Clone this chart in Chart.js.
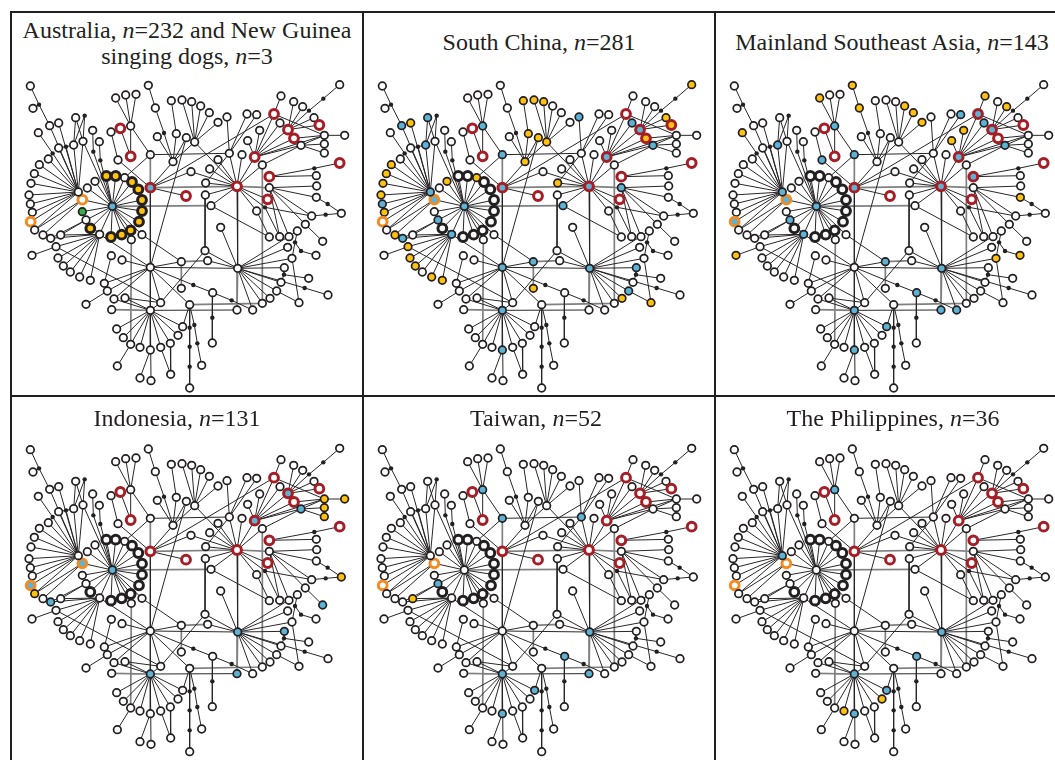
<!DOCTYPE html>
<html>
<head>
<meta charset="utf-8">
<script src="https://cdn.jsdelivr.net/npm/chart.js@4"></script>
<style>
  html, body { margin: 0; padding: 0; background: #fff; }
  body { position: relative; width: 1055px; height: 760px; overflow: hidden; }
  canvas { position: absolute; }
  .title { position: absolute; font-family: "Liberation Serif", serif; font-size: 24px; line-height: 26px;
           color: #231f20; text-align: center; white-space: nowrap; transform: translateX(-50%); }
  .rule { position: absolute; background: #231f20; }
</style>
</head>
<body>
<script>
// node positions, shared by all six panels (units: 1/3 px inside a panel)
const nodes = [
  ["l1",61,48],["l2",69,115],["l3",119,167],["l4",146,159],["l5",85,188],["l6",197,143],["l7",248,181],["l8",219,214],
  ["l9",191,225],["l10",146,234],["l11",115,267],["l12",88,284],["l13",73,311],["l14",63,340],["l15",57,375],["l16",61,402],
  ["l17",67,427],["l18",62,455],["l19",74,480],["l20",99,495],["l21",122,505],["l22",152,495],["l23",268,215],
  ["l24",232,354],["l25",255,334],["l26",217,389],["l27",217,425],["l28",228,450],
  ["A",205,366],["B",307,409],["I",269,493],["C",421,353],["H",421,254],["F",554,216],["G",489,275],["P",658,250],
  ["E",734,261],["D",681,349],["N",778,353],["Q",834,179],["J",421,592],["K",683,595],["L",421,721],["M",539,704],["O",452,698],
  ["r0",344,323],["r1",289,318],["r2",317,318],["r3",366,336],["r4",385,358],["r5",396,390],["r6",396,423],["r7",387,455],
  ["r8",362,481],["r9",335,494],["r10",303,501],["r11",241,475],
  ["u1",303,186],["u2",331,175],["u3",362,168],["u4",317,84],["u5",347,75],["u6",378,73],["u7",415,46],["u8",436,114],
  ["u9",362,259],["u10",324,270],["u11",528,378],["u12",442,200],["u13",499,191],["u14",529,203],
  ["f1",484,92],["f2",516,90],["f3",545,95],["f4",572,108],["f5",598,128],["f6",624,157],
  ["u15",651,141],["u16",711,132],["u17",740,134],["v1",696,254],["v2",713,212],["v3",749,181],["v4",792,132],["v5",810,159],["v6",813,78],
  ["w1",851,95],["w2",878,110],["w3",912,143],["w4",928,165],["w5",852,205],["w6",873,226],["w7",943,196],["w8",1004,196],
  ["w9",943,222],["w10",943,249],["w11",989,44],
  ["m1",543,305],["m2",599,297],["m3",624,269],["m4",587,339],["m5",586,375],["m6",603,407],["m7",757,285],["m8",778,320],["m9",773,388],["m10",740,423],
  ["x1",919,317],["x2",920,348],["x3",919,382],["x4",989,279],["x5",994,430],["x6",905,438],["x7",886,463],["x8",938,514],
  ["x9",778,501],["x10",809,500],["x11",837,500],["x12",862,483],
  ["y1",396,494],["y2",364,509],["y3",304,557],["y4",336,570],["y5",514,575],["y6",593,572],["y7",585,542],["y8",632,472],["y9",514,655],["y10",608,668],["y11",607,819],
  ["k1",833,532],["k2",846,565],["k3",823,593],["k4",896,625],["k5",813,637],["k6",800,663],["k7",780,685],["k8",757,700],["k9",728,720],["k10",681,720],
  ["k11",954,675],["k12",867,698],["k13",918,556],
  ["g1",138,530],["g2",144,564],["g3",160,588],["g4",181,606],["g5",209,621],["g6",241,631],["g7",66,556],
  ["s1",283,640],["s2",292,663],["s3",228,703],["s4",312,687],["s5",345,684],["s6",305,719],
  ["t1",320,777],["t2",340,803],["t3",362,823],["t4",390,832],["t5",421,840],["t6",452,832],["t7",481,820],["t8",504,796],["t9",518,770],
  ["t10",322,888],["t11",390,924],["t12",423,932],["t13",482,913],["t14",575,886],["t15",539,954],
  // small black junctions
  ["d1",87,104],["d2",128,250],["d3",168,230],["d4",224,137],["d5",250,245],["d6",271,271],["d7",462,189],["d8",940,86],["d9",897,122],
  ["d10",765,412],["d11",913,295],["d12",953,402],["d13",947,434],["d14",822,614],["d15",884,654],["d16",855,517],["d17",873,543],
  ["d18",550,645],["d19",665,691],["d20",607,743],["d21",539,773],["d22",553,765],["d23",539,830],["d24",562,820],["d25",539,890]
];

const darkEdges = ("l1-d1 d1-l3 l2-d1 l3-A l4-A l5-d2 l11-d2 d2-A l10-A l10-d3 d3-l9 d3-A l11-A l12-A l13-A l14-A l15-A l16-A l17-A l18-A l19-A " +
  "l9-A l8-A l8-B l6-l9 l6-l8 d4-l9 d4-l8 l7-d5 d5-B l23-d6 d6-B l26-A l26-l19 l26-l20 l28-l22 l28-l21 " +
  "B-r0 B-r1 B-r2 B-r3 B-r4 B-r5 B-r6 B-r7 B-r8 B-r9 B-r10 B-r11 B-l24 B-l25 B-l26 B-l27 B-l28 B-I B-y1 B-y2 " +
  "I-g1 I-g2 I-g3 I-g4 I-g5 I-g6 I-l21 I-l28 I-l22 I-J g7-g1 g1-O " +
  "u1-u10 u10-C u2-u9 u9-u3 u3-u4 u3-u5 u3-u6 u3-H H-r0 u7-u8 u8-d7 d7-G u12-G u13-G u14-G F-G G-C f1-u13 f2-F f3-F f4-F f5-F f6-F F-D u14-J " +
  "H-P P-u15 P-u16 P-u17 P-D m4-P C-J J-L C-v4 C-m1 m1-D C-u11 m2-D m3-D m4-D m5-D m6-D v1-D E-D m7-D m9-D m10-D d10-D " +
  "E-v4 E-v3 E-v2 E-v5 E-Q E-w5 E-w6 E-w7 v4-v6 v4-w7 w4-Q Q-w1 Q-w2 Q-w3 Q-d9 d9-d8 d8-w11 w5-w7 w7-w8 w6-w9 w6-w10 w6-w7 m7-w6 " +
  "m8-x1 m8-d11 d11-x4 N-x2 N-x3 x3-d12 d12-x5 x5-d13 d13-x6 N-x6 N-x7 x7-x8 N-x10 N-x11 m10-x9 d10-x10 d10-x6 m6-x9 D-K " +
  "m5-y7 y7-O y7-K y6-K y8-K K-k1 K-k2 K-k3 K-k5 K-k6 K-k7 K-k8 K-k9 K-x12 K-d15 d15-k11 k3-d14 d14-k5 d14-k4 x12-d16 d16-k2 d16-d17 d17-k13 k2-k12 k6-k12 " +
  "J-K J-y5 y1-y5 J-O J-M J-y4 J-s1 J-s2 J-s4 s2-s3 y3-s1 O-L O-s5 s5-L s4-L " +
  "J-d18 d18-y10 y10-d19 d19-k9 y10-d20 d20-y11 M-d21 d21-d23 d23-d25 d25-t15 M-d22 d22-d24 d24-t14 M-t9 " +
  "L-t1 L-t2 L-t3 L-t4 L-t5 L-t6 L-t7 L-t8 L-t9 t3-t10 t5-t11 L-t12 t6-t13 t7-t13 L-k10").split(" ");

const grayEdges = "H-C C-D D-N B-m6 y5-y6 y5-y9 y2-t3 m7-k8 M-k8 L-s6 K-k10".split(" ");

const blackRings = ["r1","r2","r3","r4","r5","r6","r7","r8","r9","r10","r11"];
const redRings = ["u2","u9","u11","C","D","E","v4","Q","w4","w5","m8","m9","x4"];
const orangeRings = ["l18","l26"];

const panelTitles = [
  ["Australia, <i>n</i>=232 and New Guinea", "singing dogs, <i>n</i>=3"],
  ["South China, <i>n</i>=281"],
  ["Mainland Southeast Asia, <i>n</i>=143"],
  ["Indonesia, <i>n</i>=131"],
  ["Taiwan, <i>n</i>=52"],
  ["The Philippines, <i>n</i>=36"]
];

const blueNodes = [
  ["B","C"],
  ["l3","l6","l9","A","l26","l16","l28","l21","I","B","u3","H","C","J","y5","L","t5","u15","v5","Q","w6","E","D","N","m6","K","k3","k6"],
  ["l9","A","l26","l18","l28","I","B","u3","u10","H","C","y5","K","L","t5","y10","k10","k9","t9","u17","v4","v5","Q","w6","E","D","m8"],
  ["l26","l18","B","l21","L","K","k10","k3","Q","w6","E","x8"],
  ["u3","H","P","l28","K","y10","k10","t9","L","t5"],
  ["u3","A","K","y10","L","t9","t5"]
];
const yellowNodes = [
  blackRings,
  ["l4","l12","l13","l14","l15","l17","l20","g1","g2","g3","g5","g6","l25","r0","f1","f2","f3","u13","u14","F","G","w3","w11","w4","w5","m4","y9","k7","k12"],
  ["l5","u4","u7","u8","f4","f5","f6","v6","w2","v3","v2","x3","g7","k2","k13"],
  ["l19","w7","w8","w9","w10","x5"],
  ["l22"],
  ["t4","t8"]
];
const greenNodes = [["l27"],[],[],[],[],[]];

const COL_BLUE = "#5cb3d6", COL_YELLOW = "#ffc20e", COL_GREEN = "#3aaa4a";
const COL_INK = "#231f20", COL_RED = "#a51d25", COL_ORANGE = "#f58b20", COL_GRAY = "#808080";

// panel frames in page px
const colX = [10, 362, 714];
const colW = [352, 352, 341];
const rowY = [70, 430];
const rowOffset = [0, -11]; // second row network sits a little lower in its crop
const titleX = [[187, 539, 892], [177, 536, 893]];
const titleY = [[17, 29, 29], [405, 405, 405]];

const nodeAt = {};
nodes.forEach(n => { nodeAt[n[0]] = n; });

function edgePoints(list) {
  const pts = [];
  list.forEach(e => {
    const [a, b] = e.split("-");
    pts.push({ x: nodeAt[a][1], y: nodeAt[a][2] }, { x: nodeAt[b][1], y: nodeAt[b][2] }, { x: null, y: null });
  });
  return pts;
}

function drawPanel(idx) {
  const col = idx % 3, row = Math.floor(idx / 3);
  const canvas = document.createElement("canvas");
  canvas.width = colW[col];
  canvas.height = 330;
  canvas.style.left = colX[col] + "px";
  canvas.style.top = rowY[row] + "px";
  document.body.appendChild(canvas);

  const fill = n => {
    if (blueNodes[idx].includes(n)) return COL_BLUE;
    if (yellowNodes[idx].includes(n)) return COL_YELLOW;
    if (greenNodes[idx].includes(n)) return COL_GREEN;
    return "#ffffff";
  };
  const isDot = n => /^d\d/.test(n);
  const isRing = n => blackRings.includes(n) || redRings.includes(n) || orangeRings.includes(n);

  new Chart(canvas, {
    type: "scatter",
    data: {
      datasets: [
        {
          order: 1,
          clip: false,
          data: nodes.map(n => ({ x: n[1], y: n[2] })),
          pointRadius: nodes.map(n => isDot(n[0]) ? 2.2 : isRing(n[0]) ? 4.4 : 3.8),
          pointBorderWidth: nodes.map(n => isDot(n[0]) ? 0 : isRing(n[0]) ? 3 : 1.7),
          pointBackgroundColor: nodes.map(n => isDot(n[0]) ? COL_INK : fill(n[0])),
          pointBorderColor: nodes.map(n => redRings.includes(n[0]) ? COL_RED : orangeRings.includes(n[0]) ? COL_ORANGE : COL_INK)
        },
        {
          order: 2,
          data: edgePoints(darkEdges),
          showLine: true,
          spanGaps: false,
          pointRadius: 0,
          borderColor: "#2a2627",
          borderWidth: 1
        },
        {
          order: 3,
          data: edgePoints(grayEdges),
          showLine: true,
          spanGaps: false,
          pointRadius: 0,
          borderColor: COL_GRAY,
          borderWidth: 1.7
        }
      ]
    },
    options: {
      responsive: false,
      animation: false,
      layout: { padding: 0, autoPadding: false },
      plugins: { legend: { display: false }, tooltip: { enabled: false } },
      scales: {
        x: { type: "linear", display: false, min: 0, max: colW[col] * 3 },
        y: { type: "linear", display: false, reverse: true, min: rowOffset[row], max: 990 + rowOffset[row] }
      }
    }
  });

  panelTitles[idx].forEach((line, i) => {
    const t = document.createElement("div");
    t.className = "title";
    t.innerHTML = line;
    t.style.left = titleX[row][col] + "px";
    t.style.top = (titleY[row][col] + i * 26) + "px";
    document.body.appendChild(t);
  });
}

for (let i = 0; i < 6; i++) drawPanel(i);

// frame lines
[[10, 11, 1045, 2], [10, 395, 1045, 2], [10, 11, 2, 749], [362, 11, 2, 749], [714, 11, 2, 749]].forEach(r => {
  const d = document.createElement("div");
  d.className = "rule";
  d.style.left = r[0] + "px"; d.style.top = r[1] + "px";
  d.style.width = r[2] + "px"; d.style.height = r[3] + "px";
  document.body.appendChild(d);
});
</script>
</body>
</html>
